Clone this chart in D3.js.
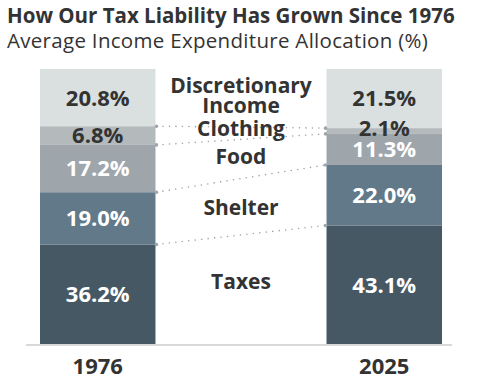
<!DOCTYPE html>
<html>
<head>
<meta charset="utf-8">
<script src="https://cdn.jsdelivr.net/npm/d3@7"></script>
<style>
  body { margin: 0; background: #fff; }
  text { font-family: "Open Sans", sans-serif; }
</style>
</head>
<body>
<script>
const years = ['1976', '2025']
const categories = ['Taxes', 'Shelter', 'Food', 'Clothing', 'Discretionary Income']
const values1976 = [36.2, 19.0, 17.2, 6.8, 20.8]
const values2025 = [43.1, 22.0, 11.3, 2.1, 21.5]
const colors = ['#465864', '#627989', '#9ea5ab', '#b4b9bc', '#dadfe0']
const labelColors = ['#fff', '#fff', '#fff', '#333', '#333']

const width = 477, height = 377

const svg = d3.select('body').append('svg')
  .attr('width', width)
  .attr('height', height)

svg.append('text')
  .attr('x', 7).attr('y', 23)
  .attr('font-size', 20.5).attr('font-weight', 700)
  .attr('letter-spacing', 0)
  .attr('fill', '#333')
  .text('How Our Tax Liability Has Grown Since 1976')

svg.append('text')
  .attr('x', 7).attr('y', 48)
  .attr('font-size', 20.5)
  .attr('letter-spacing', 0.3)
  .attr('fill', '#333')
  .text('Average Income Expenditure Allocation (%)')

const x = d3.scaleBand()
  .domain(years)
  .range([40, 442])
  .paddingInner(0.597)
  .paddingOuter(0)

const y = d3.scaleLinear()
  .domain([0, 100])
  .range([344, 69])

const series = [values1976, values2025].map((vals, j) => {
  let acc = 0
  return vals.map((v, i) => {
    const s = { year: years[j], i, v, y0: acc, y1: acc + v }
    acc += v
    return s
  })
})

const g = svg.append('g')

series.forEach(segs => {
  g.selectAll(null)
    .data(segs)
    .enter().append('rect')
    .attr('x', d => x(d.year))
    .attr('width', x.bandwidth())
    .attr('y', d => y(d.y1))
    .attr('height', d => y(d.y0) - y(d.y1))
    .attr('fill', d => colors[d.i])
})

// baseline
svg.append('line')
  .attr('x1', 26).attr('x2', 452)
  .attr('y1', y(0) + 1).attr('y2', y(0) + 1)
  .attr('stroke', '#d9d9d9').attr('stroke-width', 2)

// value labels
const nudge = [0, 0, 0, -3, 0]
series.forEach(segs => {
  g.selectAll(null)
    .data(segs)
    .enter().append('text')
    .attr('x', d => x(d.year) + x.bandwidth() / 2)
    .attr('y', d => y((d.y0 + d.y1) / 2) + (d.year === '2025' ? nudge[d.i] : 0))
    .attr('dy', '0.36em')
    .attr('text-anchor', 'middle')
    .attr('font-size', 22).attr('font-weight', 700)
    .attr('fill', d => labelColors[d.i])
    .text(d => d.v.toFixed(1) + '%')
})

// dotted connectors at the top of each segment except the last
const xl = x('1976') + x.bandwidth() + 1
const xr = x('2025') - 1
const links = d3.range(categories.length - 1).map(i => [series[0][i].y1, series[1][i].y1])
links.forEach(([a, b]) => {
  svg.append('line')
    .attr('x1', xl).attr('x2', xr)
    .attr('y1', y(a)).attr('y2', y(b))
    .attr('stroke', '#9ea5ab').attr('stroke-width', 1.6)
    .attr('stroke-linecap', 'round')
    .attr('stroke-dasharray', '0 6.5')
  svg.append('circle').attr('cx', xl).attr('cy', y(a)).attr('r', 1.8).attr('fill', '#9ea5ab')
  svg.append('circle').attr('cx', xr).attr('cy', y(b)).attr('r', 1.8).attr('fill', '#9ea5ab')
})

// category labels between bars
const midX = (x('1976') + x.bandwidth() + x('2025')) / 2
const catNudge = [-8, 1, -3, -5, -3]
categories.forEach((c, i) => {
  const cy = (y((series[0][i].y0 + series[0][i].y1) / 2) + y((series[1][i].y0 + series[1][i].y1) / 2)) / 2 + catNudge[i]
  const words = c === 'Discretionary Income' ? ['Discretionary', 'Income'] : [c]
  const t = svg.append('text')
    .attr('x', midX)
    .attr('text-anchor', 'middle')
    .attr('font-size', 21).attr('font-weight', 700)
    .attr('fill', '#333')
  words.forEach((w, k) => {
    t.append('tspan')
      .attr('x', midX)
      .attr('y', cy + (k - (words.length - 1) / 2) * 20)
      .attr('dy', '0.36em')
      .text(w)
  })
})

// year axis
const axis = svg.append('g')
  .attr('transform', `translate(0,${y(0) + 2})`)
  .call(d3.axisBottom(x).tickSize(0).tickPadding(12))
axis.select('.domain').remove()
axis.selectAll('text')
  .attr('font-size', 22).attr('font-weight', 700)
  .attr('fill', '#333')
  .attr('font-family', '"Open Sans", sans-serif')
</script>
</body>
</html>
